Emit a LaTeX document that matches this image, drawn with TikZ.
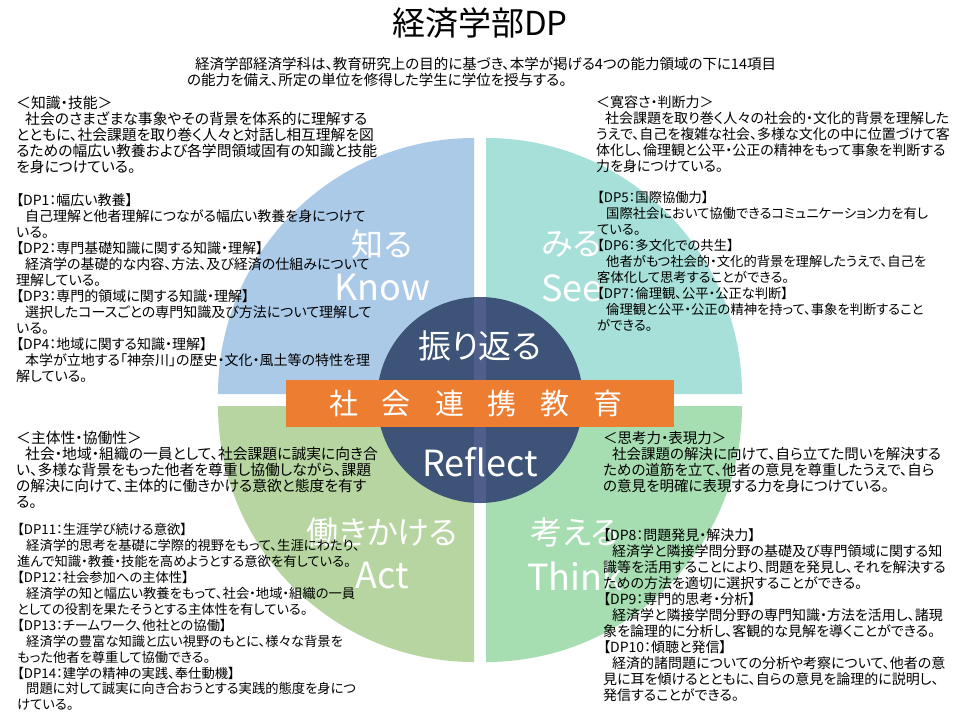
\documentclass[tikz,border=0pt]{standalone}
\usepackage{fontspec}
\setmainfont{Noto Sans CJK JP}[RawFeature=+palt]
\definecolor{qTL}{RGB}{170,202,232}
\definecolor{qTR}{RGB}{166,224,216}
\definecolor{qBL}{RGB}{182,213,160}
\definecolor{qBR}{RGB}{166,222,178}
\definecolor{hub}{RGB}{61,84,120}
\definecolor{hubstripe}{RGB}{80,94,140}
\definecolor{barcol}{RGB}{237,125,49}
\newcommand\myind{\hspace*{9pt}}
\begin{document}
\begin{tikzpicture}[x=1pt,y=-1pt,
  txt/.style={anchor=north west, inner sep=0pt, align=left, font=\fontsize{14}{16}\selectfont, text=black},
  txtbig/.style={txt, font=\fontsize{14.8}{16}\selectfont},
  txtmid/.style={txt, font=\fontsize{14.5}{16}\selectfont},
  txtsmall/.style={txt, font=\fontsize{13.3}{15.9}\selectfont},
  biglbl/.style={text=white, inner sep=0pt, font=\fontsize{32}{36}\selectfont},
  latlbl/.style={text=white, inner sep=0pt, font=\fontsize{36}{40}\selectfont}]
\useasboundingbox (0,0) rectangle (960,720);
\fill[white] (0,0) rectangle (960,720);
% quadrants
\fill[qTL] (474,394) -- (218,394) arc[start angle=180,end angle=270,radius=256] -- cycle;
\fill[qTR] (486,394) -- (486,138) arc[start angle=270,end angle=360,radius=256] -- cycle;
\fill[qBR] (486,406) -- (742,406) arc[start angle=0,end angle=90,radius=256] -- cycle;
\fill[qBL] (474,406) -- (474,662) arc[start angle=90,end angle=180,radius=256] -- cycle;
% quadrant labels
\node[biglbl] (know1) at (382,244) {知る};
\node[latlbl] (know2) at (382,288) {Know};
\node[biglbl] (see1) at (572,244) {みる};
\node[latlbl] (see2) at (572,288) {See};
\node[biglbl] (act1) at (382,532) {働きかける};
\node[latlbl] (act2) at (382,576) {Act};
\node[biglbl] (think1) at (575,532) {考える};
\node[latlbl] (think2) at (575,576) {Think};
% hub
\fill[hub] (480,400) circle[radius=103];
\begin{scope}
\clip (480,400) circle[radius=103];
\fill[hubstripe] (474,290) rectangle (486,510);
\end{scope}
\node[biglbl,font=\fontsize{33}{36}\selectfont] (refl1) at (480,346) {振り返る};
\node[latlbl] (refl2) at (480,462) {Reflect};
% bar
\fill[barcol] (286,380) rectangle (674,427);
\node[text=white,inner sep=0pt,font=\fontsize{29}{32}\selectfont] (bar) at (476,404)
  {社\hspace{24pt}会\hspace{24pt}連\hspace{24pt}携\hspace{24pt}教\hspace{24pt}育};
% title
\node[inner sep=0pt,font=\fontsize{33}{36}\selectfont] (title) at (480,23) {経済学部DP};
\node[txt,font=\fontsize{14.5}{16}\selectfont] (sub) at (187,57)
  {\hspace*{8pt}経済学部経済学科は、教育研究上の目的に基づき、本学が掲げる4つの能力領域の下に14項目\\
   の能力を備え、所定の単位を修得した学生に学位を授与する。};
% text blocks
\node[txtbig] (tlh) at (16,95.5) {＜知識・技能＞\\
\myind 社会のさまざまな事象やその背景を体系的に理解する\\
とともに、社会課題を取り巻く人々と対話し相互理解を図\\
るための幅広い教養および各学問領域固有の知識と技能\\
を身につけている。};
\node[txt] (tld) at (16,193) {【DP1：幅広い教養】\\
\myind 自己理解と他者理解につながる幅広い教養を身につけて\\
いる。\\
【DP2：専門基礎知識に関する知識・理解】\\
\myind 経済学の基礎的な内容、方法、及び経済の仕組みについて\\
理解している。\\
【DP3：専門的領域に関する知識・理解】\\
\myind 選択したコースごとの専門知識及び方法について理解して\\
いる。\\
【DP4：地域に関する知識・理解】\\
\myind 本学が立地する「神奈川」の歴史・文化・風土等の特性を理\\
解している。};
\node[txt] (trh) at (596,96) {＜寛容さ・判断力＞\\
\myind 社会課題を取り巻く人々の社会的・文化的背景を理解した\\
うえで、自己を複雑な社会、多様な文化の中に位置づけて客\\
体化し、倫理観と公平・公正の精神をもって事象を判断する\\
力を身につけている。};
\node[txtsmall] (trd) at (597,191.5) {【DP5：国際協働力】\\
\myind 国際社会において協働できるコミュニケーション力を有し\\
ている。\\
【DP6：多文化での共生】\\
\myind 他者がもつ社会的・文化的背景を理解したうえで、自己を\\
客体化して思考することができる。\\
【DP7：倫理観、公平・公正な判断】\\
\myind 倫理観と公平・公正の精神を持って、事象を判断すること\\
ができる。};
\node[txtbig] (blh) at (16,430.5) {＜主体性・協働性＞\\
\myind 社会・地域・組織の一員として、社会課題に誠実に向き合\\
い、多様な背景をもった他者を尊重し協働しながら、課題\\
の解決に向けて、主体的に働きかける意欲と態度を有す\\
る。};
\node[txtsmall] (bld) at (17,523.5) {【DP11：生涯学び続ける意欲】\\
\myind 経済学的思考を基礎に学際的視野をもって、生涯にわたり、\\
進んで知識・教養・技能を高めようとする意欲を有している。\\
【DP12：社会参加への主体性】\\
\myind 経済学の知と幅広い教養をもって、社会・地域・組織の一員\\
としての役割を果たそうとする主体性を有している。\\
【DP13：チームワーク、他社との協働】\\
\myind 経済学の豊富な知識と広い視野のもとに、様々な背景を\\
もった他者を尊重して協働できる。\\
【DP14：建学の精神の実践、奉仕動機】\\
\myind 問題に対して誠実に向き合おうとする実践的態度を身につ\\
けている。};
\node[txtmid] (brh) at (603,430.7) {＜思考力・表現力＞\\
\myind 社会課題の解決に向けて、自ら立てた問いを解決する\\
ための道筋を立て、他者の意見を尊重したうえで、自ら\\
の意見を明確に表現する力を身につけている。};
\node[txt] (brd) at (603,528) {【DP8：問題発見・解決力】\\
\myind 経済学と隣接学問分野の基礎及び専門領域に関する知\\
識等を活用することにより、問題を発見し、それを解決する\\
ための方法を適切に選択することができる。\\
【DP9：専門的思考・分析】\\
\myind 経済学と隣接学問分野の専門知識・方法を活用し、諸現\\
象を論理的に分析し、客観的な見解を導くことができる。\\
【DP10：傾聴と発信】\\
\myind 経済的諸問題についての分析や考察について、他者の意\\
見に耳を傾けるとともに、自らの意見を論理的に説明し、\\
発信することができる。};
\end{tikzpicture}
\end{document}
